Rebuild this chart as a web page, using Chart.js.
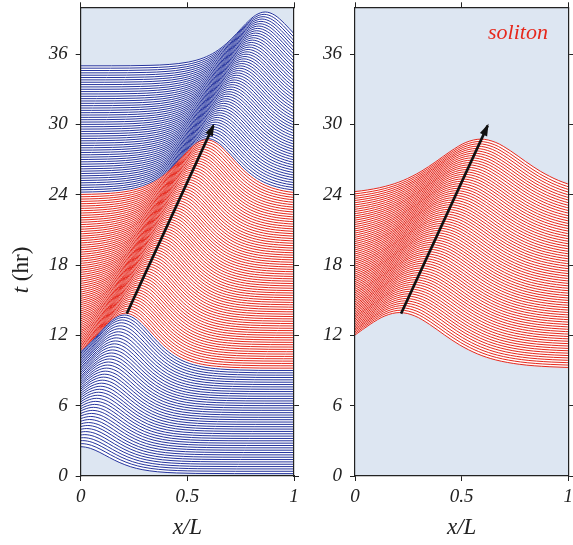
<!DOCTYPE html>
<html>
<head>
<meta charset="utf-8">
<script src="https://cdn.jsdelivr.net/npm/chart.js@4/dist/chart.umd.min.js"></script>
<style>
body { margin: 0; background: #fff; }
#wrap { position: relative; width: 573px; height: 545px; }
canvas { position: absolute; top: 0; }
</style>
</head>
<body>
<div id="wrap">
  <canvas id="left" width="300" height="545" style="left:0px"></canvas>
  <canvas id="right" width="273" height="545" style="left:300px"></canvas>
</div>
<script>
// bump profile (offset in widths -> fraction of amplitude)
var profileU = [-30, -4, -3, -2.5, -2, -1.6, -1.3, -1, -0.75, -0.5, -0.25, 0, 0.25, 0.5, 0.75, 1, 1.3, 1.6, 2, 2.5, 3, 4, 30];
var profileV = [0, 0.0013, 0.0099, 0.0266, 0.0707, 0.1505, 0.2574, 0.42, 0.5966, 0.7864, 0.94, 1, 0.94, 0.7864, 0.5966, 0.42, 0.2574, 0.1505, 0.0707, 0.0266, 0.0099, 0.0013, 0];

// early (blue) traces, t = 0..9 hr
var blue1Times = [0.2,0.4,0.6,0.8,1,1.2,1.4,1.6,1.8,2,2.2,2.4,2.6,2.8,3,3.2,3.4,3.6,3.8,4,4.2,4.4,4.6,4.8,5,5.2,5.4,5.6,5.8,6,6.2,6.4,6.6,6.8,7,7.2,7.4,7.6,7.8,8,8.2,8.4,8.6,8.8,9];
var blue1Peaks = [0.000,0.005,0.009,0.014,0.019,0.023,0.028,0.033,0.037,0.042,0.047,0.051,0.056,0.060,0.065,0.070,0.074,0.079,0.084,0.088,0.093,0.098,0.102,0.107,0.112,0.116,0.121,0.126,0.130,0.135,0.140,0.144,0.149,0.153,0.158,0.163,0.167,0.172,0.177,0.181,0.186,0.191,0.195,0.200,0.205];
var blue1Amps = [2.30,2.36,2.42,2.47,2.53,2.59,2.65,2.71,2.76,2.82,2.88,2.94,3.00,3.06,3.11,3.17,3.23,3.29,3.35,3.40,3.46,3.52,3.58,3.64,3.69,3.75,3.81,3.87,3.93,3.99,4.04,4.10,4.16,4.22,4.28,4.33,4.39,4.45,4.51,4.57,4.62,4.68,4.72,4.74,4.74];

// soliton (red) traces, t = 9..24 hr
var redTimes = [9.2,9.4,9.6,9.8,10,10.2,10.4,10.6,10.8,11,11.2,11.4,11.6,11.8,12,12.2,12.4,12.6,12.8,13,13.2,13.4,13.6,13.8,14,14.2,14.4,14.6,14.8,15,15.2,15.4,15.6,15.8,16,16.2,16.4,16.6,16.8,17,17.2,17.4,17.6,17.8,18,18.2,18.4,18.6,18.8,19,19.2,19.4,19.6,19.8,20,20.2,20.4,20.6,20.8,21,21.2,21.4,21.6,21.8,22,22.2,22.4,22.6,22.8,23,23.2,23.4,23.6,23.8,24];
var redPeaks = [0.210,0.215,0.220,0.225,0.231,0.236,0.241,0.246,0.251,0.256,0.261,0.266,0.272,0.277,0.282,0.287,0.292,0.297,0.302,0.308,0.313,0.318,0.323,0.328,0.333,0.338,0.344,0.349,0.354,0.359,0.364,0.369,0.374,0.379,0.385,0.390,0.395,0.400,0.405,0.410,0.415,0.421,0.426,0.431,0.436,0.441,0.446,0.451,0.456,0.462,0.467,0.472,0.477,0.482,0.487,0.492,0.498,0.503,0.508,0.513,0.518,0.523,0.528,0.534,0.539,0.544,0.549,0.554,0.559,0.564,0.569,0.575,0.580,0.585,0.590];
var redAmp = 4.7;

// late (blue) traces, t = 24..35 hr
var blue2Times = [24.2,24.4,24.6,24.8,25,25.2,25.4,25.6,25.8,26,26.2,26.4,26.6,26.8,27,27.2,27.4,27.6,27.8,28,28.2,28.4,28.6,28.8,29,29.2,29.4,29.6,29.8,30,30.2,30.4,30.6,30.8,31,31.2,31.4,31.6,31.8,32,32.2,32.4,32.6,32.8,33,33.2,33.4,33.6,33.8,34,34.2,34.4,34.6,34.8,35];
var blue2Peaks = [0.595,0.600,0.605,0.610,0.615,0.620,0.625,0.630,0.635,0.640,0.645,0.650,0.655,0.660,0.665,0.670,0.675,0.680,0.685,0.690,0.695,0.700,0.705,0.710,0.715,0.720,0.725,0.730,0.735,0.740,0.745,0.750,0.755,0.760,0.765,0.770,0.775,0.780,0.785,0.790,0.795,0.800,0.805,0.810,0.815,0.820,0.825,0.830,0.835,0.840,0.845,0.850,0.855,0.860,0.865];
var blue2Amp = 4.6;

// bump width of the observed record (x/L units)
var recordWidth = 0.18;

// right panel: fitted soliton, same times and crest path, wider shape
var solitonAmp = 4.75;
var solitonWidth = 0.28;

// crest-path arrow (x/L, t)
var arrowX = [0.216, 0.622];
var arrowT = [13.86, 29.9];

var xTicks = [0, 0.5, 1];
var tTicks = [0, 6, 12, 18, 24, 30, 36];

var blueColor = 'rgb(38,52,158)';
var redColor = 'rgb(230,40,28)';
var bgColor = 'rgb(221,230,242)';
var axisColor = '#222';
var serif = '"Liberation Serif", "Times New Roman", serif';

function trace(t, peak, amp, width, color, first) {
    var pts = profileU.map(function(u, k) {
        return {x: peak + width * u, y: t + amp * profileV[k]};
    });
    return {
        data: pts,
        borderColor: color,
        borderWidth: 1,
        pointRadius: 0,
        fill: first ? false : '-1',
        backgroundColor: '#ffffff',
        cubicInterpolationMode: 'monotone'
    };
}

function arrowSet() {
    return {
        data: [{x: arrowX[0], y: arrowT[0]}, {x: arrowX[1], y: arrowT[1]}],
        borderColor: '#111',
        borderWidth: 2.6,
        pointRadius: 0,
        fill: false,
        order: -1
    };
}

var panelPlugin = {
    id: 'panel',
    beforeDraw: function(chart) {
        var a = chart.chartArea, ctx = chart.ctx;
        ctx.save();
        ctx.fillStyle = bgColor;
        ctx.fillRect(a.left, a.top, a.right - a.left, a.bottom - a.top);
        ctx.restore();
    },
    afterDatasetsDraw: function(chart) {
        var ctx = chart.ctx;
        var idx = chart.data.datasets.length - 1;
        var pts = chart.getDatasetMeta(idx).data;
        var p0 = pts[0], p1 = pts[1];
        var ang = Math.atan2(p1.y - p0.y, p1.x - p0.x);
        var c = Math.cos(ang), s = Math.sin(ang);
        var L = 10, W = 4;
        ctx.save();
        ctx.fillStyle = '#111';
        ctx.beginPath();
        ctx.moveTo(p1.x + 2 * c, p1.y + 2 * s);
        ctx.lineTo(p1.x - L * c - W * s, p1.y - L * s + W * c);
        ctx.lineTo(p1.x - L * c + W * s, p1.y - L * s - W * c);
        ctx.closePath();
        ctx.fill();
        ctx.restore();
    },
    afterDraw: function(chart, args, o) {
        var ctx = chart.ctx, a = chart.chartArea;
        ctx.save();
        ctx.fillStyle = axisColor;
        ctx.textBaseline = 'middle';
        // x title
        ctx.font = 'italic 23px ' + serif;
        ctx.textAlign = 'center';
        ctx.fillText('x/L', (a.left + a.right) / 2, 528);
        if (o.yTitle) {
            ctx.translate(22, 270);
            ctx.rotate(-Math.PI / 2);
            ctx.textAlign = 'left';
            ctx.font = 'italic 23px ' + serif;
            var w1 = ctx.measureText('t').width;
            ctx.font = '23px ' + serif;
            var w2 = ctx.measureText(' (hr)').width;
            var x0 = -(w1 + w2) / 2;
            ctx.font = 'italic 23px ' + serif;
            ctx.fillText('t', x0, 0);
            ctx.font = '23px ' + serif;
            ctx.fillText(' (hr)', x0 + w1, 0);
        }
        if (o.label) {
            ctx.fillStyle = redColor;
            ctx.textAlign = 'center';
            ctx.font = 'italic 22px ' + serif;
            ctx.fillText(o.label, chart.scales.x.getPixelForValue(0.764), chart.scales.y.getPixelForValue(37.8));
        }
        ctx.restore();
    }
};

// pin the axis boxes so the plot area sits where it does in the figure
function fixedSize(prop, v) {
    return function(scale) {
        scale[prop] = v;
        scale.paddingTop = 0;
        scale.paddingBottom = 0;
        scale.paddingLeft = 0;
        scale.paddingRight = 0;
    };
}

function useTicks(list) {
    return function(s) { s.ticks = list.map(function(v) { return {value: v}; }); };
}

function panelOptions(leftW, rightW, extra) {
    var tickFont = {family: serif, style: 'italic', size: 19};
    var grid = {drawOnChartArea: false, drawTicks: true, tickLength: 5, color: axisColor, lineWidth: 1};
    var border = {display: true, color: axisColor, width: 1.2, z: 1};
    var plain = function(v) { return String(v); };
    return {
        responsive: false,
        animation: false,
        events: [],
        layout: {padding: 0},
        plugins: {legend: {display: false}, tooltip: {enabled: false}, panel: extra},
        scales: {
            x: {
                type: 'linear', position: 'bottom', min: 0, max: 1,
                afterFit: fixedSize('height', 69),
                afterBuildTicks: useTicks(xTicks),
                ticks: {font: tickFont, color: axisColor, padding: 5, maxRotation: 0, callback: plain},
                grid: grid, border: border
            },
            x2: {
                type: 'linear', axis: 'x', position: 'top', min: 0, max: 1,
                afterFit: fixedSize('height', 7.3),
                afterBuildTicks: useTicks(xTicks),
                ticks: {display: false},
                grid: grid, border: border
            },
            y: {
                type: 'linear', position: 'left', min: 0, max: 40,
                afterFit: fixedSize('width', leftW),
                afterBuildTicks: useTicks(tTicks),
                ticks: {font: tickFont, color: axisColor, padding: 8, callback: plain},
                grid: grid, border: border
            },
            y2: {
                type: 'linear', axis: 'y', position: 'right', min: 0, max: 40,
                afterFit: fixedSize('width', rightW),
                afterBuildTicks: useTicks(tTicks),
                ticks: {display: false},
                grid: grid, border: border
            }
        }
    };
}

// left panel: full record
var leftSets = [];
blue1Times.forEach(function(t, i) {
    leftSets.push(trace(t, blue1Peaks[i], blue1Amps[i], recordWidth, blueColor, i === 0));
});
redTimes.forEach(function(t, i) {
    leftSets.push(trace(t, redPeaks[i], redAmp, recordWidth, redColor, false));
});
blue2Times.forEach(function(t, i) {
    leftSets.push(trace(t, blue2Peaks[i], blue2Amp, recordWidth, blueColor, false));
});
leftSets.push(arrowSet());

new Chart(document.getElementById('left'), {
    type: 'line',
    data: {datasets: leftSets},
    options: panelOptions(80.7, 6, {yTitle: true}),
    plugins: [panelPlugin]
});

// right panel: soliton only
var rightSets = [];
redTimes.forEach(function(t, i) {
    rightSets.push(trace(t, redPeaks[i], solitonAmp, solitonWidth, redColor, i === 0));
});
rightSets.push(arrowSet());

new Chart(document.getElementById('right'), {
    type: 'line',
    data: {datasets: rightSets},
    options: panelOptions(55, 4.7, {label: 'soliton'}),
    plugins: [panelPlugin]
});
</script>
</body>
</html>
